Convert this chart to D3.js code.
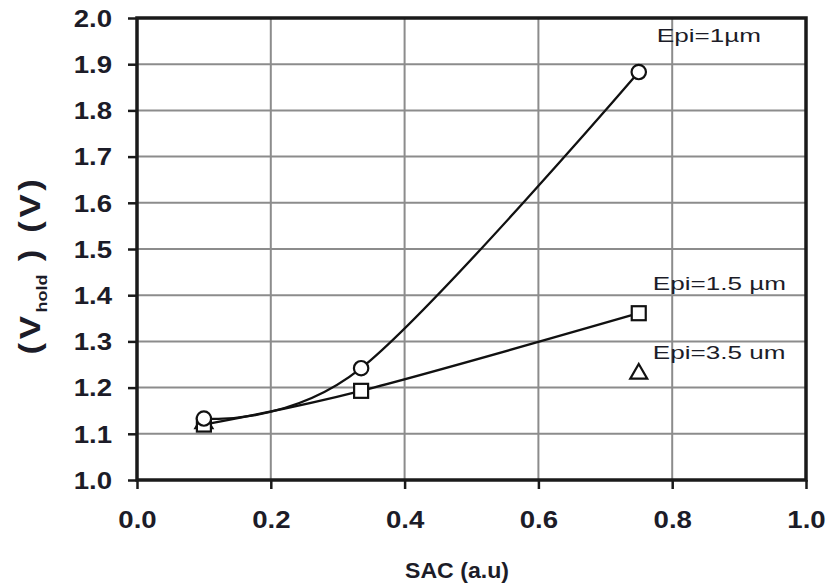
<!DOCTYPE html>
<html>
<head>
<meta charset="utf-8">
<script src="https://cdn.jsdelivr.net/npm/d3@7"></script>
<style>
  html, body { margin: 0; padding: 0; background: #fff; }
  svg { display: block; }
  text { font-family: "Liberation Sans", Arial, sans-serif; fill: #1c1c28; }
</style>
</head>
<body>
<svg id="chart" width="828" height="588"></svg>
<script>
// ---- data ----
const sacValues = [0.1, 0.335, 0.75];
const epi1 = [1.133, 1.242, 1.883];      // circles, smoothed line
const epi15 = [1.12, 1.193, 1.361];      // squares, smoothed line
const epi35X = [0.1, 0.75];
const epi35 = [1.125, 1.232];            // triangles, markers only
const xTicks = [0.0, 0.2, 0.4, 0.6, 0.8, 1.0];
const yTicks = [1.0, 1.1, 1.2, 1.3, 1.4, 1.5, 1.6, 1.7, 1.8, 1.9, 2.0];
const labelText = ["Epi=1µm", "Epi=1.5 µm", "Epi=3.5 um"];
const labelX = [0.777, 0.771, 0.771];
const labelY = [1.962, 1.425, 1.276];

// ---- layout ----
const svg = d3.select("#chart");
const pL = 137, pR = 806, pT = 18, pB = 480;
const x = d3.scaleLinear().domain([0, 1]).range([pL, pR]);
const y = d3.scaleLinear().domain([1, 2]).range([pB, pT]);
const stretch = 1.2;

// grid
const grid = svg.append("g");
grid.selectAll("line.v").data(xTicks).join("line")
  .attr("x1", d => x(d)).attr("x2", d => x(d))
  .attr("y1", pT).attr("y2", pB)
  .attr("stroke", "#8c8c8c").attr("stroke-width", 2);
grid.selectAll("line.h").data(yTicks).join("line")
  .attr("y1", d => y(d)).attr("y2", d => y(d))
  .attr("x1", pL).attr("x2", pR)
  .attr("stroke", "#8c8c8c").attr("stroke-width", 2);

// axes
const xAxis = d3.axisBottom(x).tickValues(xTicks).tickFormat(d3.format(".1f")).tickSize(9);
const yAxis = d3.axisLeft(y).tickValues(yTicks).tickFormat(d3.format(".1f")).tickSize(9);

const gx = svg.append("g").attr("transform", `translate(0,${pB})`).call(xAxis);
const gy = svg.append("g").attr("transform", `translate(${pL},0)`).call(yAxis);
[gx, gy].forEach(g => {
  g.select(".domain").remove();
  g.selectAll(".tick line").attr("stroke", "#1a1a1a").attr("stroke-width", 2.5);
  g.selectAll(".tick text")
    .style("font-size", "23px").style("font-weight", "bold")
    .attr("fill", "#1c1c28")
    .attr("transform", `scale(${stretch},1)`);
});
gx.selectAll(".tick text").attr("y", 48).attr("dy", 0);
gy.selectAll(".tick text").attr("x", -25 / stretch).attr("dy", "0.36em");

// frame
svg.append("rect").attr("x", pL).attr("y", pT)
  .attr("width", pR - pL).attr("height", pB - pT)
  .attr("fill", "none").attr("stroke", "#1a1a1a").attr("stroke-width", 3.5);

// lines
const line = d3.line().x(d => x(d[0])).y(d => y(d[1])).curve(d3.curveCardinal.tension(0));
const s1 = sacValues.map((v, i) => [v, epi1[i]]);
const s15 = sacValues.map((v, i) => [v, epi15[i]]);
const s35 = epi35X.map((v, i) => [v, epi35[i]]);

svg.append("path").datum(s15).attr("d", line)
  .attr("fill", "none").attr("stroke", "#111").attr("stroke-width", 2.3);
svg.append("path").datum(s1).attr("d", line)
  .attr("fill", "none").attr("stroke", "#111").attr("stroke-width", 2.3);

// markers
const mk = svg.append("g").attr("fill", "#fff").attr("stroke", "#111").attr("stroke-width", 2.2);
mk.selectAll("path.tri").data(s35).join("path")
  .attr("d", d3.symbol(d3.symbolTriangle, 125)())
  .attr("transform", d => `translate(${x(d[0])},${y(d[1]) + 1})`);
mk.selectAll("rect.sq").data(s15).join("rect")
  .attr("x", d => x(d[0]) - 7).attr("y", d => y(d[1]) - 7)
  .attr("width", 14).attr("height", 14);
mk.selectAll("circle").data(s1).join("circle")
  .attr("cx", d => x(d[0])).attr("cy", d => y(d[1])).attr("r", 7.2);

// series labels
svg.append("g").selectAll("text").data(labelText).join("text")
  .attr("transform", (d, i) => `translate(${x(labelX[i])},${y(labelY[i])}) scale(1.45,1)`)
  .attr("dy", "0.35em")
  .style("font-size", "18px")
  .text(d => d);

// axis titles
svg.append("text")
  .attr("transform", "translate(457,570) scale(1.05,1)")
  .attr("dy", "0.35em")
  .attr("text-anchor", "middle")
  .style("font-size", "22px").style("font-weight", "bold")
  .text("SAC (a.u)");

const yt = svg.append("text")
  .attr("transform", "translate(30,265) rotate(-90) scale(1.2,1)")
  .attr("text-anchor", "middle").attr("dy", "0.35em")
  .style("font-size", "29px").style("font-weight", "bold")
  .style("letter-spacing", "3px");
yt.append("tspan").text("(V");
yt.append("tspan").attr("dy", 7).style("font-size", "15px").style("letter-spacing", "0px").text("hold");
yt.append("tspan").attr("dy", -7).text(" ) (V)");
</script>
</body>
</html>
